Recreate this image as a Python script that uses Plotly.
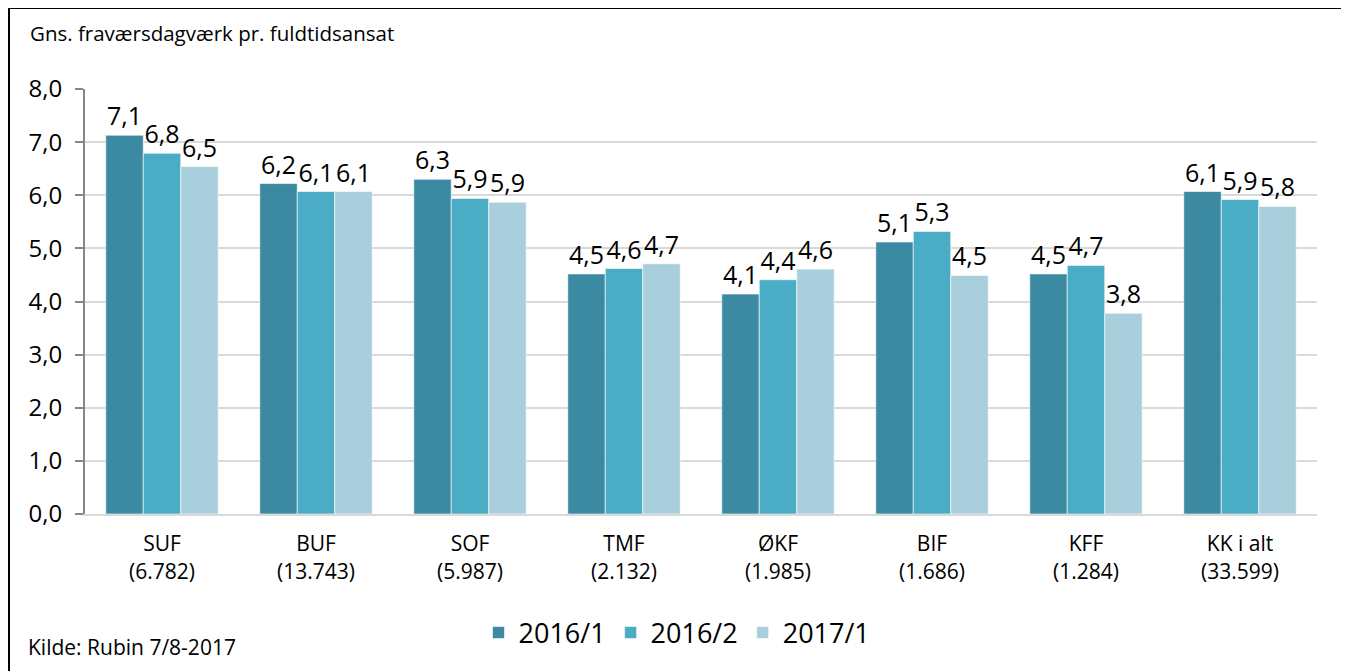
import plotly.graph_objects as go

categories = ["SUF<br>(6.782)", "BUF<br>(13.743)", "SOF<br>(5.987)", "TMF<br>(2.132)",
              "ØKF<br>(1.985)", "BIF<br>(1.686)", "KFF<br>(1.284)", "KK i alt<br>(33.599)"]
series_names = ["2016/1", "2016/2", "2017/1"]
v_2016_1 = [7.13, 6.22, 6.30, 4.52, 4.14, 5.12, 4.52, 6.07]
v_2016_2 = [6.79, 6.07, 5.94, 4.62, 4.41, 5.32, 4.68, 5.92]
v_2017_1 = [6.54, 6.07, 5.87, 4.71, 4.61, 4.49, 3.78, 5.79]
colors = ["#3C8AA1", "#4BACC6", "#A9CFDD"]

OFF = 8  # page body margin
W, H = 1349 - OFF, 671 - OFF
ml, mr, mt, mb = 85 - OFF, 32, 89 - OFF, 157
pw, ph = W - ml - mr, H - mt - mb

def px_x(x):
    return (x - OFF - ml) / pw

def px_y(y):
    return (H - mb - (y - OFF)) / ph

font = "Open Sans, Noto Sans, sans-serif"
fig = go.Figure()
for name, vals, c in zip(series_names, [v_2016_1, v_2016_2, v_2017_1], colors):
    fig.add_trace(go.Bar(
        x=categories, y=vals, name=name,
        marker=dict(color=c, line=dict(color="rgba(255,255,255,0.6)", width=1)),
        texttemplate="%{y:.1f}", textposition="outside",
        textfont=dict(size=25, color="#000", family=font),
        constraintext="none", cliponaxis=False,
    ))

fig.update_layout(
    width=W, height=H,
    margin=dict(l=ml, r=mr, t=mt, b=mb, autoexpand=False),
    barmode="group", bargap=0.27, bargroupgap=0,
    separators=",.",
    plot_bgcolor="white", paper_bgcolor="white",
    font=dict(family=font, color="#000"),
    showlegend=True,
    legend=dict(orientation="h", x=px_x(677), xanchor="center", y=px_y(633), yanchor="middle",
                font=dict(size=27, family=font), traceorder="normal"),
    yaxis=dict(range=[0, 8], dtick=1, tickformat=".1f", showgrid=True, gridcolor="#D9D9D9",
               gridwidth=2, showline=True, linecolor="#868686", linewidth=2,
               ticks="outside", ticklen=8, tickcolor="#868686", tickwidth=2,
               ticklabelstandoff=8,
               tickfont=dict(size=24, family=font), zeroline=False),
    xaxis=dict(showline=True, linecolor="#D9D9D9", linewidth=2, ticks="",
               ticklabelstandoff=10,
               tickfont=dict(size=21, family=font)),
)

fig.add_annotation(text="Gns. fraværsdagværk pr. fuldtidsansat", xref="paper", yref="paper",
                   x=px_x(28), y=px_y(33), xanchor="left", yanchor="middle", showarrow=False,
                   font=dict(size=20.5, family=font))
fig.add_annotation(text="Kilde: Rubin 7/8-2017", xref="paper", yref="paper",
                   x=px_x(26), y=px_y(647), xanchor="left", yanchor="middle", showarrow=False,
                   font=dict(size=21, family=font))
fig.add_shape(type="rect", xref="paper", yref="paper",
              x0=px_x(9), x1=px_x(1344), y0=px_y(700), y1=px_y(8),
              line=dict(color="#000", width=2), fillcolor="rgba(0,0,0,0)", layer="above")

fig.write_html("out.html")
